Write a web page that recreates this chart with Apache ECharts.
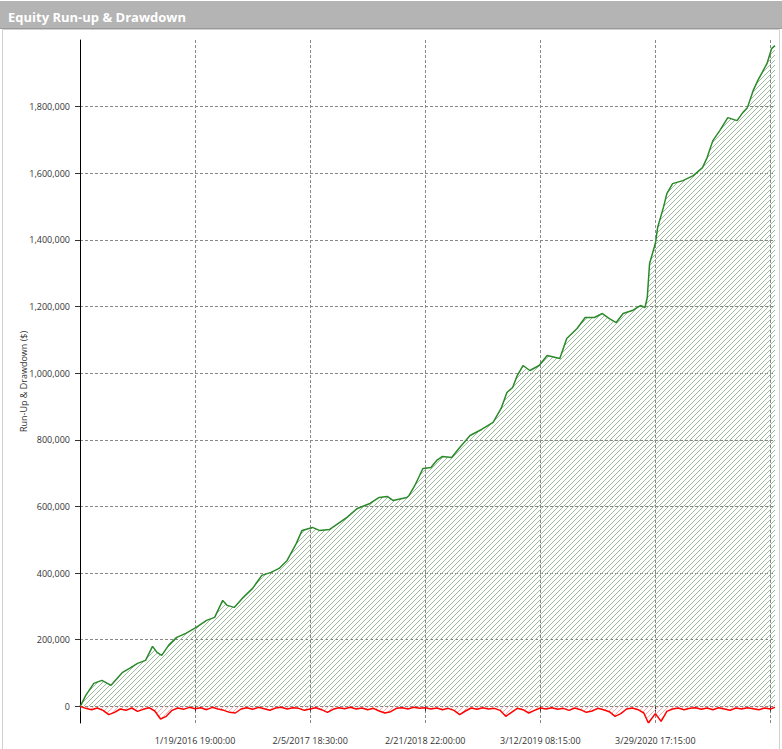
<!DOCTYPE html>
<html lang="en">
<head>
<meta charset="UTF-8">
<title>Equity Run-up & Drawdown</title>
<script src="https://cdn.jsdelivr.net/npm/echarts@6.0.0/dist/echarts.min.js"></script>
<style>
    html, body { margin: 0; padding: 0; background: #fff; }
    #chart { width: 782px; height: 749px; }
</style>
</head>
<body>
<div id="chart"></div>
<script type="text/javascript">
// x is the bar index of the equity curve, ticks every 100 bars
var xTicks = [0, 100, 200, 300, 400, 500, 600];
var xLabelTicks = [100, 200, 300, 400, 500];
var xTickLabels = {
    100: '1/19/2016 19:00:00',
    200: '2/5/2017 18:30:00',
    300: '2/21/2018 22:00:00',
    400: '3/12/2019 08:15:00',
    500: '3/29/2020 17:15:00'
};
var yTicks = [0, 200000, 400000, 600000, 800000, 1000000, 1200000, 1400000, 1600000, 1800000];

// [bar index, run-up $]
var equity = [
    [0, 0], [1, 5000], [5, 33000], [12, 69000], [19, 78000], [27, 63000], [37, 102000],
    [43, 114000], [50, 129000], [57, 138000], [63, 180000], [67, 162000], [71, 153000],
    [77, 183000], [84, 207000], [92, 219000], [101, 237000], [110, 258000], [117, 267000],
    [124, 318000], [128, 303000], [134, 297000], [141, 324000], [150, 354000], [158, 393000],
    [166, 402000], [173, 414000], [180, 438000], [188, 489000], [193, 528000], [202, 537000],
    [208, 528000], [217, 531000], [232, 567000], [241, 594000], [252, 609000], [260, 627000],
    [267, 630000], [272, 618000], [284, 627000], [286, 633000], [291, 663000], [298, 714000],
    [305, 717000], [310, 738000], [315, 750000], [323, 747000], [330, 777000], [339, 813000],
    [349, 831000], [359, 852000], [366, 894000], [371, 942000], [376, 957000], [380, 993000],
    [385, 1023000], [391, 1008000], [399, 1023000], [406, 1053000], [417, 1044000],
    [423, 1104000], [432, 1134000], [439, 1167000], [447, 1167000], [454, 1179000],
    [460, 1164000], [466, 1152000], [472, 1179000], [480, 1188000], [487, 1203000],
    [491, 1197000], [493, 1227000], [495, 1329000], [500, 1389000], [502, 1437000],
    [507, 1497000], [510, 1539000], [515, 1569000], [524, 1578000], [533, 1593000],
    [541, 1617000], [545, 1647000], [550, 1698000], [556, 1728000], [563, 1767000],
    [571, 1758000], [576, 1782000], [580, 1797000], [585, 1848000], [589, 1878000],
    [597, 1929000], [601, 1974000], [604, 1983000]
];

// [bar index, drawdown $]
var drawdown = [
    [0, 0], [5, -6000], [10, -10000], [15, -5000], [20, -12000], [25, -25000], [30, -18000],
    [35, -8000], [40, -12000], [45, -5000], [50, -15000], [55, -9000], [60, -4000],
    [65, -14000], [70, -38000], [75, -30000], [80, -12000], [85, -5000], [90, -9000],
    [95, -3000], [100, -7000], [105, -4000], [110, -10000], [115, -3000], [120, -8000],
    [125, -12000], [130, -18000], [135, -20000], [140, -8000], [145, -4000], [150, -9000],
    [155, -3000], [160, -7000], [165, -12000], [170, -5000], [175, -3000], [180, -8000],
    [185, -4000], [190, -6000], [195, -12000], [200, -8000], [205, -4000], [210, -10000],
    [215, -18000], [220, -9000], [225, -4000], [230, -7000], [235, -3000], [240, -8000],
    [245, -5000], [250, -10000], [255, -6000], [260, -14000], [265, -20000], [270, -16000],
    [275, -6000], [280, -4000], [285, -8000], [290, -3000], [295, -6000], [300, -4000],
    [305, -8000], [310, -5000], [315, -10000], [320, -6000], [325, -12000], [330, -25000],
    [335, -14000], [340, -5000], [345, -9000], [350, -4000], [355, -8000], [360, -6000],
    [365, -12000], [370, -30000], [375, -18000], [380, -6000], [385, -10000], [390, -20000],
    [395, -12000], [400, -5000], [405, -8000], [410, -4000], [415, -9000], [420, -6000],
    [425, -12000], [430, -5000], [435, -10000], [440, -18000], [445, -14000], [450, -6000],
    [455, -10000], [460, -16000], [465, -30000], [470, -22000], [475, -8000], [480, -5000],
    [485, -10000], [490, -20000], [494, -50000], [500, -22000], [505, -45000], [510, -15000],
    [515, -8000], [520, -5000], [525, -10000], [530, -6000], [535, -4000], [540, -9000],
    [545, -5000], [550, -10000], [555, -4000], [560, -8000], [565, -12000], [570, -5000],
    [575, -8000], [580, -4000], [585, -7000], [590, -10000], [595, -5000], [600, -8000],
    [604, -3000]
];

// diagonal "/" hatch used as the area fill
function hatch(color, size) {
    var c = document.createElement('canvas');
    c.width = size;
    c.height = size;
    var ctx = c.getContext('2d');
    ctx.strokeStyle = color;
    ctx.lineWidth = 1;
    ctx.beginPath();
    ctx.moveTo(0, size); ctx.lineTo(size, 0);
    ctx.moveTo(-1, 1); ctx.lineTo(1, -1);
    ctx.moveTo(size - 1, size + 1); ctx.lineTo(size + 1, size - 1);
    ctx.stroke();
    return c.toDataURL();
}

var font = 'Open Sans';
var mychart = echarts.init(document.getElementById('chart'), null, { renderer: 'svg' });
var option = {
    backgroundColor: '#fff',
    animation: false,
    title: {
        text: 'Equity Run-up & Drawdown',
        left: 3,
        top: 5,
        z: 10,
        textStyle: { color: '#fff', fontSize: 13, fontWeight: 'bold', fontFamily: font }
    },
    graphic: [
        { type: 'rect', z: 0, shape: { x: 0, y: 1, width: 782, height: 27 }, style: { fill: '#b4b4b4' } },
        { type: 'line', z: 0, shape: { x1: 0, y1: 28.5, x2: 782, y2: 28.5 }, style: { stroke: '#999', lineWidth: 1 } },
        { type: 'rect', z: 0, shape: { x: 2.5, y: 29.5, width: 777, height: 725 }, style: { fill: 'none', stroke: '#d0d0d0', lineWidth: 1 } }
    ],
    grid: { left: 80, right: 7, top: 40, bottom: 26 },
    xAxis: {
        type: 'value',
        min: 0,
        max: 604,
        axisLine: { show: false },
        axisTick: { show: true, length: 5, customValues: xTicks, lineStyle: { color: '#333' } },
        axisLabel: {
            customValues: xLabelTicks,
            margin: 13,
            color: '#333',
            fontSize: 9,
            fontFamily: font,
            formatter: function (v) { return xTickLabels[v] || ''; }
        },
        splitLine: { show: true, lineStyle: { color: '#888', type: [3, 2], width: 1 } }
    },
    yAxis: {
        type: 'value',
        min: -50000,
        max: 2000000,
        name: 'Run-Up & Drawdown ($)',
        nameLocation: 'middle',
        nameGap: 52,
        nameMoveOverlap: false,
        nameTextStyle: { color: '#333', fontSize: 9, fontFamily: font },
        axisLine: { show: true, lineStyle: { color: '#000', width: 1 } },
        axisTick: { show: true, length: 5, customValues: yTicks, lineStyle: { color: '#333' } },
        axisLabel: {
            customValues: yTicks,
            margin: 10,
            color: '#333',
            fontSize: 9,
            fontFamily: font,
            formatter: function (v) { return v.toLocaleString('en-US'); }
        },
        splitLine: { show: true, lineStyle: { color: '#888', type: [3, 2], width: 1 } }
    },
    series: [
        {
            name: 'Run-up',
            type: 'line',
            data: equity,
            showSymbol: false,
            symbol: 'none',
            lineStyle: { color: '#2a8a2a', width: 1.5 },
            areaStyle: { color: { image: hatch('#9dbb9d', 5), repeat: 'repeat' }, opacity: 1 }
        },
        {
            name: 'Drawdown',
            type: 'line',
            data: drawdown,
            showSymbol: false,
            symbol: 'none',
            lineStyle: { color: '#ff0000', width: 1.5 },
            areaStyle: { color: { image: hatch('#f4b0b0', 5), repeat: 'repeat' }, opacity: 1 }
        }
    ]
};
mychart.setOption(option);
</script>
</body>
</html>
